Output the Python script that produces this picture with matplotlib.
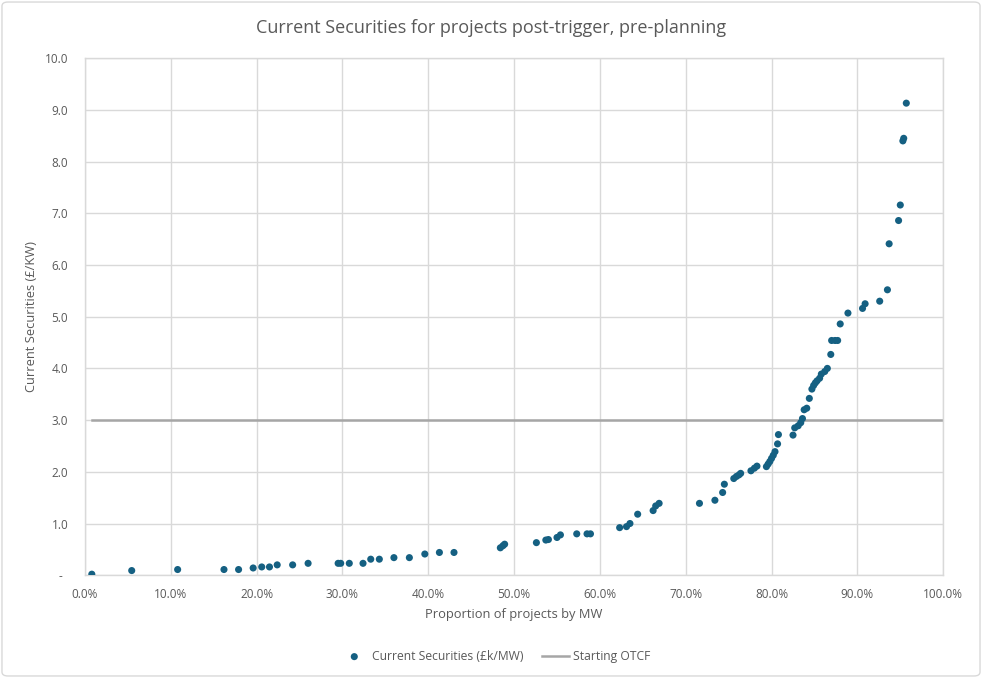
import matplotlib
matplotlib.use("Agg")
import matplotlib.pyplot as plt
from matplotlib.patches import FancyBboxPatch
from matplotlib.ticker import FuncFormatter, MultipleLocator

plt.rcParams['font.family'] = ['Open Sans', 'DejaVu Sans']

title = "Current Securities for projects post-trigger, pre-planning"
x_label = "Proportion of projects by MW"
y_label = "Current Securities (£/KW)"
series_name = "Current Securities (£k/MW)"
line_name = "Starting OTCF"

proportion_pct = [0.8, 5.45, 10.8, 16.2, 17.9, 19.6, 20.6, 21.5, 22.4, 24.2, 26.0,
                  29.5, 29.8, 30.8, 32.4, 33.3, 34.3, 36.0, 37.8, 39.6, 41.3, 43.0,
                  48.4, 48.7, 48.9, 52.6, 53.7, 54.0, 55.0, 55.4, 57.3, 58.5, 58.9,
                  62.3, 63.1, 63.5, 64.4, 66.2, 66.5, 66.9, 71.6, 73.4, 74.3, 74.5,
                  75.6, 75.9, 76.2, 76.4, 77.6, 78.0, 78.3, 79.4, 79.6, 79.8, 80.0,
                  80.2, 80.4, 80.7, 80.8, 82.5, 82.7, 83.1, 83.4, 83.6, 83.8, 84.1,
                  84.4, 84.7, 84.9, 85.1, 85.3, 85.6, 85.8, 86.2, 86.5, 86.9, 87.0,
                  87.4, 87.7, 88.0, 88.9, 90.6, 90.9, 92.6, 93.5, 93.7, 94.8, 95.0,
                  95.3, 95.4, 95.7]
securities = [0.02, 0.09, 0.11, 0.11, 0.11, 0.14, 0.16, 0.16, 0.20, 0.20, 0.23,
              0.23, 0.23, 0.23, 0.23, 0.31, 0.31, 0.34, 0.34, 0.41, 0.44, 0.44,
              0.53, 0.57, 0.60, 0.63, 0.68, 0.69, 0.73, 0.78, 0.80, 0.80, 0.80,
              0.92, 0.94, 1.00, 1.18, 1.25, 1.34, 1.39, 1.39, 1.45, 1.60, 1.76,
              1.87, 1.91, 1.94, 1.97, 2.02, 2.07, 2.11, 2.10, 2.15, 2.20, 2.26,
              2.32, 2.39, 2.54, 2.72, 2.71, 2.85, 2.89, 2.95, 3.03, 3.20, 3.23,
              3.42, 3.60, 3.67, 3.72, 3.76, 3.81, 3.89, 3.94, 4.00, 4.27, 4.54,
              4.54, 4.54, 4.86, 5.07, 5.16, 5.25, 5.30, 5.52, 6.41, 6.86, 7.16,
              8.40, 8.45, 9.13]
otcf_x = [0.8, 100.0]
otcf_y = [3.0, 3.0]

fig = plt.figure(figsize=(9.82, 6.78), dpi=100)
ax = fig.add_axes([0.0865, 0.1516, 0.874, 0.7626])

grid_c = '#d9d9d9'
text_c = '#595959'

ax.plot(otcf_x, otcf_y, color='#a6a6a6', lw=1.8, zorder=2, label=line_name)
ax.scatter(proportion_pct, securities, s=26, color='#156082', zorder=3,
           edgecolors='none', label=series_name)

ax.set_xlim(0, 100)
ax.set_ylim(0, 10)
ax.xaxis.set_major_locator(MultipleLocator(10))
ax.yaxis.set_major_locator(MultipleLocator(1))
ax.xaxis.set_major_formatter(FuncFormatter(lambda v, p: f"{v:.1f}%"))
ax.yaxis.set_major_formatter(FuncFormatter(lambda v, p: "-  " if abs(v) < 1e-9 else f"{v:.1f}"))
ax.grid(True, color=grid_c, lw=1.0, zorder=0)
ax.set_axisbelow(True)
for s in ax.spines.values():
    s.set_color(grid_c)
    s.set_linewidth(1.0)
ax.tick_params(length=0, colors=text_c, labelsize=8.5)
ax.tick_params(axis='x', pad=9)
ax.tick_params(axis='y', pad=12)

ax.set_xlabel(x_label, color=text_c, fontsize=9.3, labelpad=5)
ax.set_ylabel(y_label, color=text_c, fontsize=9.3, labelpad=5)
fig.text(0.5, 0.958, title, ha='center', va='center', color=text_c, fontsize=13)

handles, labels = ax.get_legend_handles_labels()
order = [1, 0]
leg = fig.legend([handles[i] for i in order], [labels[i] for i in order],
                 loc='center', bbox_to_anchor=(0.505, 0.032), ncol=2, frameon=False,
                 fontsize=8.7, labelcolor=text_c, handlelength=2.2, columnspacing=1.5,
                 handletextpad=0.4)

border = FancyBboxPatch((0.002, 0.003), 0.996, 0.994, boxstyle="round,pad=0,rounding_size=0.006",
                        transform=fig.transFigure, fill=False, edgecolor='#d9d9d9', lw=1.0)
fig.patches.append(border)

fig.savefig("out.png", dpi=100)
